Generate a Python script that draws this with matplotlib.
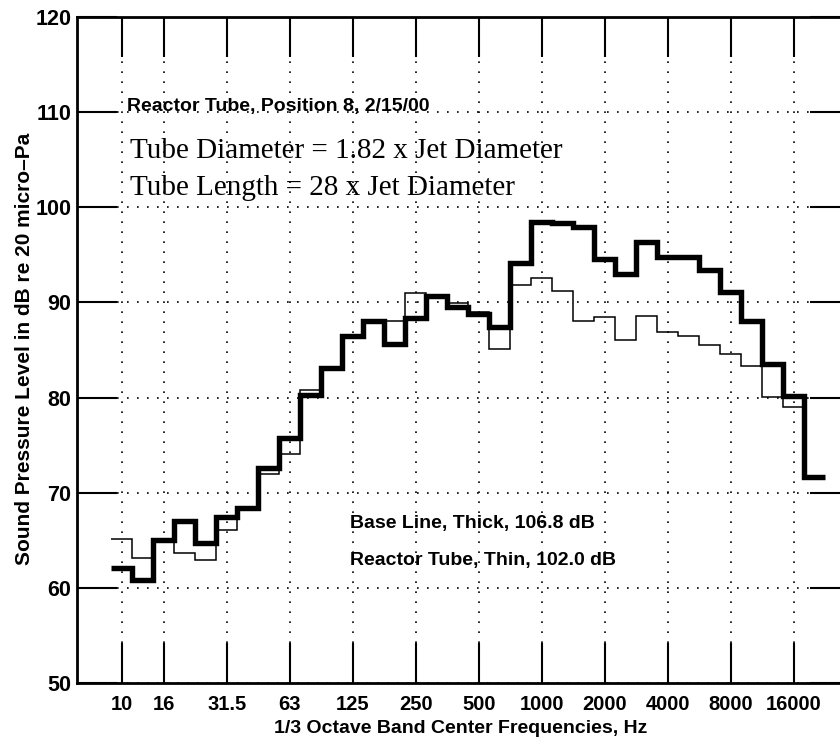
import numpy as np
import matplotlib
matplotlib.use("Agg")
import matplotlib.pyplot as plt

# 1/3 octave bands, 10 Hz ... 20 kHz (34 bands), plotted by band index
band_labels = ["10", "16", "31.5", "63", "125", "250", "500", "1000",
               "2000", "4000", "8000", "16000"]
band_label_index = [0, 2, 5, 8, 11, 14, 17, 20, 23, 26, 29, 32]

# Sound pressure level per band, dB re 20 micro-Pa
baseline_thick = [62.1, 60.8, 65.0, 67.0, 64.7, 67.5, 68.4, 72.6, 75.8, 80.3,
                  83.1, 86.5, 88.0, 85.6, 88.4, 90.7, 89.5, 88.8, 87.4, 94.1,
                  98.5, 98.4, 97.9, 94.6, 93.0, 96.4, 94.8, 94.8, 93.4, 91.1,
                  88.0, 83.5, 80.2, 71.6]
reactor_thin = [65.1, 63.1, 65.0, 63.7, 62.9, 66.1, 68.3, 72.0, 74.1, 80.8,
                83.0, 86.5, 88.1, 88.1, 91.0, 90.6, 89.9, 89.0, 85.1, 91.8,
                92.6, 91.2, 88.1, 88.5, 86.1, 88.6, 86.9, 86.5, 85.5, 84.6,
                83.3, 80.1, 79.0, 71.6]

y_ticks = [50, 60, 70, 80, 90, 100, 110, 120]

SANS = "Liberation Sans"
SERIF = "Liberation Serif"

fig = plt.figure(figsize=(8.4, 7.39), dpi=100)
ax = fig.add_axes([77 / 840, 56 / 739, 773 / 840, 666 / 739])

edges = np.arange(len(baseline_thick) + 1) - 0.5
ax.stairs(baseline_thick, edges, baseline=None, color="black", linewidth=3.9,
          zorder=3)
ax.stairs(reactor_thin, edges, baseline=None, color="black", linewidth=1.1,
          zorder=4)

ax.set_xlim(-2.13, 34.68)
ax.set_ylim(50, 120)

ax.set_xticks(band_label_index)
ax.set_xticklabels(band_labels)
ax.set_yticks(y_ticks)

ax.tick_params(which="major", direction="in", length=29, width=1.5,
               top=True, right=True, color="black", pad=9)
ax.tick_params(axis="x", labelsize=14.5)
ax.tick_params(axis="y", labelsize=15.5, pad=4)
for lab in ax.get_xticklabels() + ax.get_yticklabels():
    lab.set_fontfamily(SANS)
    lab.set_fontweight("bold")

ax.grid(True, color="black", linestyle=(0, (1, 5)), linewidth=1.2)
for sp in ax.spines.values():
    sp.set_linewidth(2.0)

ax.set_xlabel("1/3 Octave Band Center Frequencies, Hz", fontsize=14,
              fontfamily=SANS, fontweight="bold")
ax.set_ylabel("Sound Pressure Level in dB re 20 micro\u2013Pa", fontsize=15,
              fontfamily=SANS, fontweight="bold")
ax.xaxis.set_label_coords(0.497, -0.055)
ax.yaxis.set_label_coords(-0.056, 0.502)

ax.text(0.24, 110.1, "Reactor Tube, Position 8, 2/15/00", fontsize=14,
        fontfamily=SANS, fontweight="bold", va="baseline", ha="left")
ax.text(0.4, 105.15, "Tube Diameter = 1.82 x Jet Diameter", fontsize=21,
        fontfamily=SERIF, va="baseline", ha="left")
ax.text(0.4, 101.26, "Tube Length = 28 x Jet Diameter", fontsize=21,
        fontfamily=SERIF, va="baseline", ha="left")
ax.text(10.87, 66.3, "Base Line, Thick, 106.8 dB", fontsize=14,
        fontfamily=SANS, fontweight="bold", va="baseline", ha="left")
ax.text(10.87, 62.4, "Reactor Tube, Thin, 102.0 dB", fontsize=14,
        fontfamily=SANS, fontweight="bold", va="baseline", ha="left")

fig.savefig("out.png", dpi=100)
